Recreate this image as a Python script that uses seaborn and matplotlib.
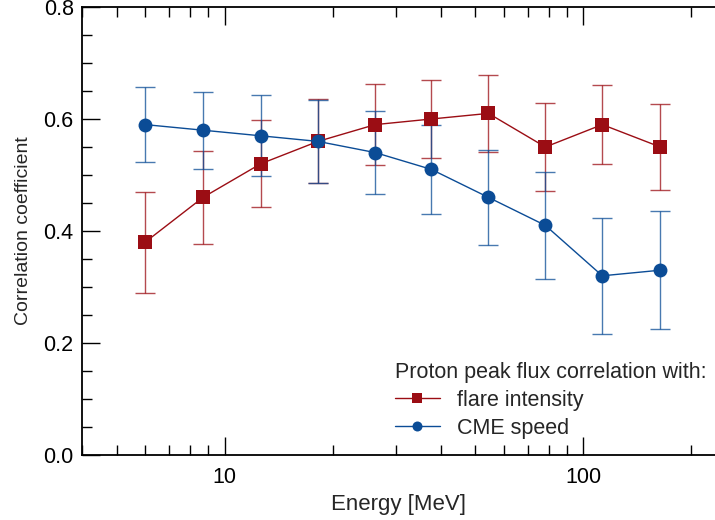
import numpy as np
import pandas as pd
import matplotlib
matplotlib.use('Agg')
import matplotlib.pyplot as plt
from matplotlib.ticker import LogLocator, MultipleLocator, NullFormatter, FixedLocator, FixedFormatter
import seaborn as sns

# data
energy = [6.0, 8.7, 12.6, 18.2, 26.3, 37.7, 54.4, 78.4, 113.0, 164.0]
flare_r = [0.38, 0.46, 0.52, 0.56, 0.59, 0.60, 0.61, 0.55, 0.59, 0.55]
flare_err = [0.09, 0.083, 0.078, 0.075, 0.072, 0.07, 0.069, 0.078, 0.07, 0.076]
cme_r = [0.59, 0.58, 0.57, 0.56, 0.54, 0.51, 0.46, 0.41, 0.32, 0.33]
cme_err = [0.067, 0.069, 0.072, 0.074, 0.074, 0.079, 0.085, 0.095, 0.104, 0.105]

red = '#9b0d14'
blue = '#0b4c96'

df = pd.DataFrame({
    'Energy': energy * 2,
    'r': flare_r + cme_r,
    'series': ['flare intensity'] * len(energy) + ['CME speed'] * len(energy),
})

sns.set_theme(style='ticks')
plt.rcParams['font.family'] = ['Liberation Sans', 'DejaVu Sans']

fig = plt.figure(figsize=(7.15, 5.2), dpi=100)
ax = fig.add_axes([82 / 715, 65 / 520, 1 - 82 / 715, 448 / 520])

# error bars first
ax.errorbar(energy, flare_r, yerr=flare_err, fmt='none', ecolor=red,
            elinewidth=1.0, capsize=7, capthick=1.0, alpha=0.75, zorder=2)
ax.errorbar(energy, cme_r, yerr=cme_err, fmt='none', ecolor=blue,
            elinewidth=1.0, capsize=7, capthick=1.0, alpha=0.75, zorder=2)

sns.lineplot(data=df, x='Energy', y='r', hue='series', style='series',
             palette={'flare intensity': red, 'CME speed': blue},
             markers={'flare intensity': 's', 'CME speed': 'o'},
             dashes=False, markersize=10, markeredgewidth=0, linewidth=1.0,
             ax=ax, zorder=3)

ax.set_xscale('log')
ax.set_xlim(4.0, 233)
ax.set_ylim(0, 0.8)

ax.xaxis.set_major_locator(FixedLocator([10, 100]))
ax.xaxis.set_major_formatter(FixedFormatter(['10', '100']))
ax.xaxis.set_minor_locator(LogLocator(base=10, subs=np.arange(2, 10)))
ax.xaxis.set_minor_formatter(NullFormatter())
ax.yaxis.set_major_locator(MultipleLocator(0.2))
ax.yaxis.set_minor_locator(MultipleLocator(0.05))
ax.yaxis.set_major_formatter(plt.FuncFormatter(lambda v, p: f'{v:.1f}'))

ax.tick_params(which='both', direction='in', top=True, right=False,
               colors='black', labelsize=15.5, width=1.0)
ax.tick_params(which='major', length=13)
ax.tick_params(which='minor', length=7)
ax.tick_params(axis='x', which='major', pad=8.5)
ax.tick_params(axis='y', which='major', pad=6)

for side in ['left', 'bottom', 'top']:
    ax.spines[side].set_color('black')
    ax.spines[side].set_linewidth(1.3)
ax.spines['right'].set_visible(False)

ax.set_xlabel('Energy [MeV]', fontsize=16, labelpad=4.5)
ax.set_ylabel('Correlation coefficient', fontsize=14, labelpad=8.5)

fs = 15.5
bp = 0.2
dx = bp * fs * 100 / 72 / 633
dy = bp * fs * 100 / 72 / 448
leg = ax.legend(title='Proton peak flux correlation with:', loc='upper left',
                frameon=False, fontsize=fs, title_fontsize=fs,
                markerscale=0.72, handlelength=2.1, handletextpad=0.8,
                alignment='left', labelspacing=0.33, borderpad=bp,
                borderaxespad=0, bbox_to_anchor=(0.494 - dx, 0.208 + dy))

fig.savefig('out.png', dpi=100)
